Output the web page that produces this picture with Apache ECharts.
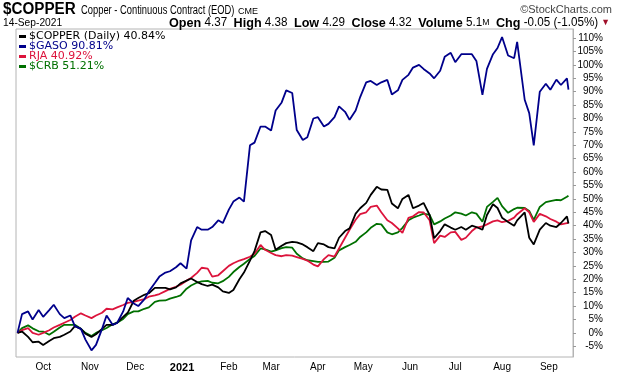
<!DOCTYPE html>
<html>
<head>
<meta charset="utf-8">
<script src="https://cdn.jsdelivr.net/npm/echarts@6/dist/echarts.min.js"></script>
<style>
  html, body { margin: 0; padding: 0; background: #fff; }
  #chart { width: 620px; height: 376px; }
</style>
</head>
<body>
<div id="chart"></div>
<script>
// sample dates (roughly twice a week)
var dates = [
  '2020-09-14','2020-09-17','2020-09-21','2020-09-24','2020-09-28','2020-10-01','2020-10-05','2020-10-08','2020-10-12','2020-10-15',
  '2020-10-19','2020-10-22','2020-10-26','2020-10-29','2020-11-02','2020-11-05','2020-11-09','2020-11-12','2020-11-16','2020-11-19',
  '2020-11-23','2020-11-26','2020-11-30','2020-12-03','2020-12-07','2020-12-10','2020-12-14','2020-12-17','2020-12-21','2020-12-24',
  '2020-12-28','2020-12-31','2021-01-04','2021-01-07','2021-01-11','2021-01-14','2021-01-18','2021-01-21','2021-01-25','2021-01-28',
  '2021-02-01','2021-02-04','2021-02-08','2021-02-11','2021-02-15','2021-02-18','2021-02-22','2021-02-25','2021-03-01','2021-03-04',
  '2021-03-08','2021-03-11','2021-03-15','2021-03-18','2021-03-22','2021-03-25','2021-03-29','2021-04-01','2021-04-05','2021-04-08',
  '2021-04-12','2021-04-15','2021-04-19','2021-04-22','2021-04-26','2021-04-29','2021-05-03','2021-05-06','2021-05-10','2021-05-13',
  '2021-05-17','2021-05-20','2021-05-24','2021-05-27','2021-05-31','2021-06-03','2021-06-07','2021-06-10','2021-06-14','2021-06-17',
  '2021-06-21','2021-06-24','2021-06-28','2021-07-01','2021-07-05','2021-07-08','2021-07-12','2021-07-15','2021-07-19','2021-07-22',
  '2021-07-26','2021-07-29','2021-08-01','2021-08-05','2021-08-09','2021-08-11','2021-08-16','2021-08-19','2021-08-22','2021-08-26',
  '2021-08-30','2021-09-02','2021-09-06','2021-09-09','2021-09-13','2021-09-14'
];

// % change since start
var copper = [
  0, 0.5, -1.5, -3.5, -3.3, -4.5, -3, -2, -1.5, -0.7,
  0.5, 2.5, 1.5, -0.3, -1.5, -0.5, 1.5, 3, 3, 3.8,
  6, 7.5, 12, 13, 14.2, 14.8, 16.8, 16.8, 16.8, 16.2,
  17, 18.5, 19.5, 20.3, 19, 18.2, 17.5, 18, 17, 15.5,
  14.9, 16, 20, 22.5, 27, 30.5, 37.5, 38, 36.5, 31,
  32.5, 33.5, 34, 33.8, 33, 32, 30.5, 33.5, 33, 32,
  31.5, 35.5, 38, 39, 44.5, 46.5, 48.5, 51.5, 54.5, 53.5,
  53.4, 48.3, 46.5, 50, 51.5, 46.5, 47.5, 48.5, 44, 35.3,
  38, 40.5, 39.3, 38.5, 39.5, 38.5, 40, 39.5, 38.5, 44,
  48, 46.6, 43, 41.4, 40, 42, 45, 35.5, 33, 38.5,
  41, 40, 39.5, 41, 43.5, 40.84
];
var gaso = [
  0, 7, 8, 5, 8.5, 6, 8.5, 10.5, 7, 5.5,
  6.5, 2.5, 1.5, -2.5, -6.5, -4.5, 1.5, 6.5, 3, 3.7,
  8, 13, 11, 10, 12.5, 15.5, 18.6, 21, 22.5, 23,
  24.5, 26, 24, 34.5, 39.5, 38.5, 38.5, 39.5, 42, 41,
  46, 49, 50.5, 49, 70, 71, 77, 77, 75.5, 83,
  86, 90.5, 89.5, 75.7, 72, 73, 80, 80.5, 77, 78,
  80.5, 84.5, 82.5, 79.5, 83, 88, 93.5, 94, 92.5, 93.5,
  94.4, 89, 90.5, 94.4, 96.3, 99, 100, 98.5, 96.8, 95,
  97.8, 103, 104.5, 101, 104, 104, 104, 101.5, 88.8, 98.5,
  104, 106.3, 110.4, 103.5, 102.5, 108.6, 87, 82, 70, 90,
  93, 90.7, 94.5, 92.5, 95, 90.81
];
var rja = [
  0, 1, 1.8, 0, -0.7, 0, 1, 2, 3, 3.8,
  4.8, 6, 7.3, 6.5, 5.5, 6.5, 7.5, 9, 8.8, 9.5,
  10.4, 11.2, 11.6, 12, 12.6, 13.5, 14, 14.5, 15.6, 16.4,
  17.2, 18, 19.5, 20.5, 22.4, 24.3, 24, 21, 21.5, 23,
  25, 26, 27, 27.5, 28.4, 29.5, 32.8, 31, 29.8, 29,
  28.6, 29, 28.8, 28.3, 27.6, 27, 25.5, 24.8, 27.5, 29,
  28.5, 31.5, 35.5, 38.5, 42.2, 44.3, 45, 47, 47.5, 45,
  42, 41, 39, 37.3, 42.9, 43.5, 45.1, 45, 42, 33.5,
  36.3, 35.8, 37.5, 37.7, 34.7, 35.5, 38, 39.3, 39.7, 40.5,
  41.6, 42, 41.3, 41.8, 43, 44.3, 46.5, 45, 41.4, 44.4,
  43.5, 42.5, 41.5, 40.5, 41, 40.92
];
var crb = [
  0, 1.8, 2.8, 1.7, 0.6, 0.5, -0.7, 0.4, 2, 3,
  3, 3, 1.5, 0, -1.2, 0, 1, 1.8, 3.2, 3.8,
  5.2, 7, 8, 8, 9, 9.5, 11.6, 12, 12.1, 12.8,
  13.4, 14, 16.5, 17.7, 18.8, 19.2, 19.4, 18.7, 18.5, 19.3,
  20.9, 22.7, 24.6, 25.8, 27.6, 28.7, 31.5, 31.2, 30.3, 30.8,
  31.6, 32, 31.8, 29.5, 27.8, 27.1, 26.8, 26.5, 26.5, 26.6,
  28, 30.8, 32, 32.8, 34, 35.8, 37.5, 39.2, 40.7, 40.5,
  37.5, 36.8, 37.5, 39.2, 42, 43, 43.8, 44.5, 44, 40.5,
  41.6, 42.7, 43.8, 45, 44.5, 43.8, 45, 44.5, 41.5, 47,
  48.9, 50.4, 47.3, 44.8, 46.2, 46.7, 46.6, 45.5, 42.2, 47,
  48.8, 49.2, 49.6, 49.5, 50.8, 51.21
];

var names = ['$COPPER (Daily) 40.84%', '$GASO 90.81%', 'RJA 40.92%', '$CRB 51.21%'];
var colors = ['#000000', '#00008b', '#dc143c', '#007000'];
var yMin = -9, yMax = 113.4, yStep = 5;

function pairs(vals) {
  return dates.map(function (d, i) { return [d, vals[i]]; });
}

var myChart = echarts.init(document.getElementById('chart'));
var font = 'Liberation Sans, Arial, sans-serif';

// header texts, squeezed a little to mimic the condensed face
function headText(text, x, y, size, opts) {
  opts = opts || {};
  return {
    type: 'text', x: x, y: y, scaleX: opts.scaleX || 1, silent: true,
    style: {
      text: text, fill: opts.color || '#000',
      font: (opts.bold ? 'bold ' : '') + size + 'px ' + font,
      textAlign: opts.align || 'left', textVerticalAlign: 'middle',
      rich: opts.rich
    }
  };
}

var option = {
  animation: false,
  backgroundColor: '#fff',
  graphic: [
    headText('$COPPER', 3, 10, 16, { bold: true, scaleX: 0.95 }),
    headText('Copper - Continuous Contract (EOD)', 81, 11, 12, { scaleX: 0.78 }),
    headText('CME', 238, 12, 9),
    headText('\u00a9StockCharts.com', 612, 10, 11, { align: 'right', color: '#444' }),
    headText('14-Sep-2021', 3, 23, 11, { scaleX: 0.93 }),
    headText('{b|Open} 4.37  {b|High} 4.38  {b|Low} 4.29  {b|Close} 4.32  {b|Volume} 5.1{s|M}  {b|Chg} -0.05 (-1.05%) {t|\u25bc}',
      610, 23, 12, {
        align: 'right', scaleX: 0.97,
        rich: {
          b: { font: 'bold 13px ' + font, fill: '#000' },
          s: { font: '9px ' + font, fill: '#000' },
          t: { font: '9px ' + font, fill: '#a0102a' }
        }
      })
  ],
  legend: {
    orient: 'vertical',
    left: 19,
    top: 31,
    padding: 0,
    itemGap: -1,
    itemWidth: 7,
    itemHeight: 3,
    icon: 'rect',
    selectedMode: false,
    textStyle: { fontFamily: 'DejaVu Sans, Verdana, sans-serif', fontSize: 11, lineHeight: 9, padding: [0, 0, 0, -2] },
    data: names.map(function (n, i) {
      return { name: n, textStyle: { color: colors[i] } };
    })
  },
  grid: {
    left: 16,
    right: 47,
    top: 29,
    bottom: 19,
    show: true,
    borderColor: '#b4b4b4',
    borderWidth: 1,
    backgroundColor: 'transparent'
  },
  xAxis: {
    type: 'time',
    min: '2020-09-13',
    max: '2021-09-17',
    splitNumber: 12,
    axisLine: { show: false },
    axisTick: { show: false },
    splitLine: { show: false },
    axisLabel: {
      showMinLabel: false,
      showMaxLabel: false,
      fontFamily: font,
      fontSize: 10,
      color: '#000',
      margin: 5,
      formatter: { year: '{yr|{yyyy}}', month: '{MMM}', day: '{d}' },
      rich: { yr: { fontFamily: font, fontWeight: 'bold', fontSize: 11, color: '#000' } }
    }
  },
  yAxis: {
    type: 'value',
    position: 'right',
    min: yMin,
    max: yMax,
    splitNumber: 24,
    minInterval: yStep,
    maxInterval: yStep,
    axisLine: { show: true, lineStyle: { color: '#b4b4b4' } },
    axisTick: { show: true, length: 3, lineStyle: { color: '#999' } },
    splitLine: { show: false },
    axisLabel: {
      showMinLabel: false,
      showMaxLabel: false,
      align: 'right',
      margin: 30,
      fontFamily: font,
      fontSize: 10,
      color: '#000',
      formatter: '{value}%'
    }
  },
  series: [
    { name: names[3], type: 'line', data: pairs(crb) },
    { name: names[2], type: 'line', data: pairs(rja) },
    { name: names[0], type: 'line', data: pairs(copper) },
    { name: names[1], type: 'line', data: pairs(gaso) }
  ].map(function (s) {
    var c = colors[names.indexOf(s.name)];
    s.showSymbol = false;
    s.symbol = 'none';
    s.color = c;
    s.lineStyle = { color: c, width: 1.8 };
    return s;
  })
};

myChart.setOption(option);
</script>
</body>
</html>
